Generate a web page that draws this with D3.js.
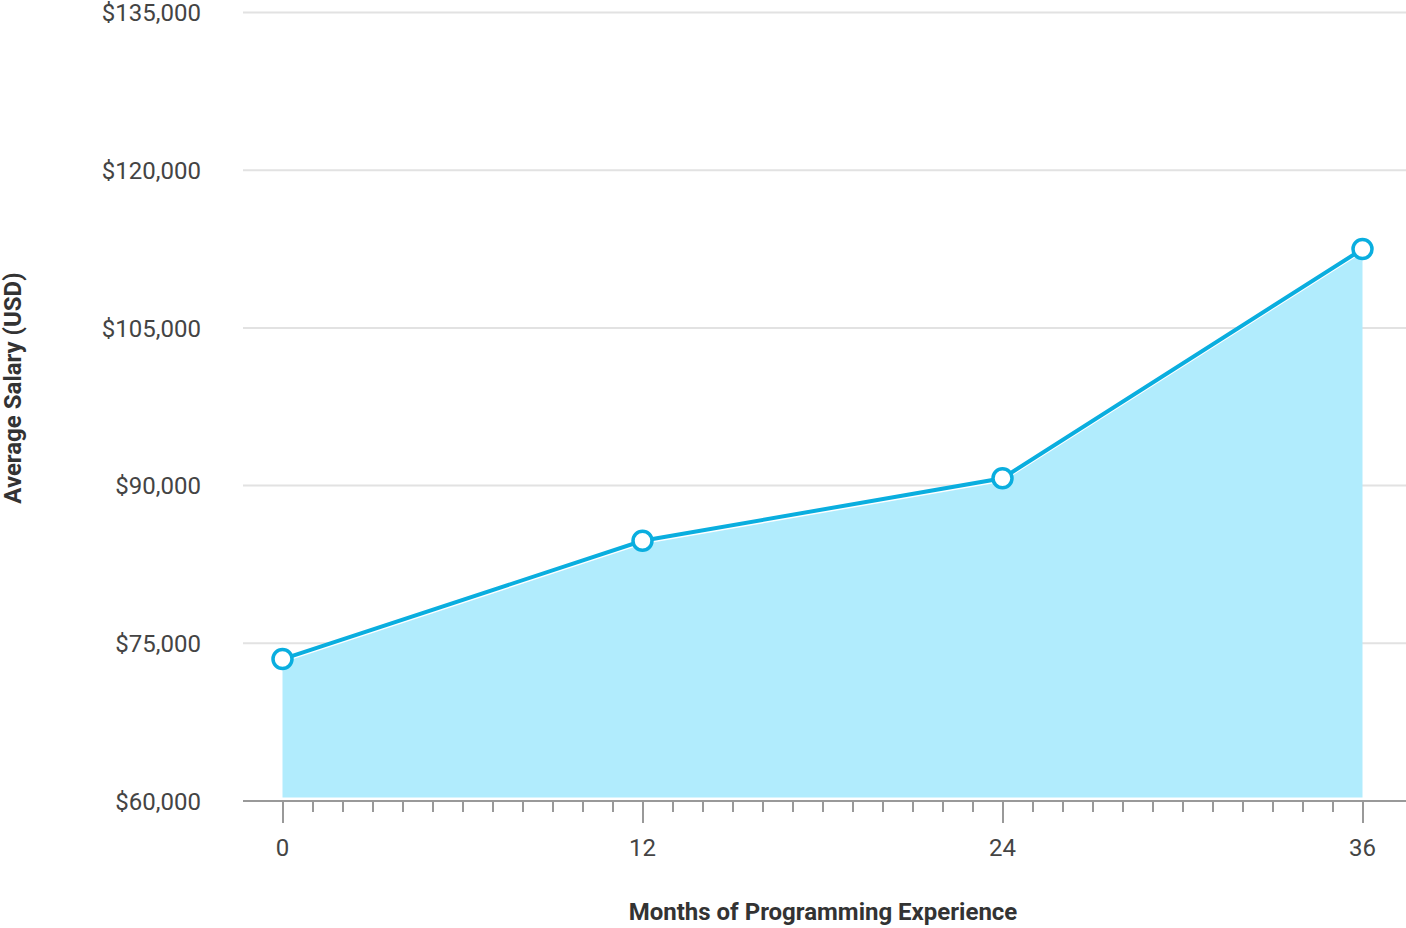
<!DOCTYPE html>
<html>
<head>
<meta charset="utf-8">
<script src="https://cdn.jsdelivr.net/npm/d3@7"></script>
<style>
  html, body { margin: 0; padding: 0; background: #fff; }
  svg { display: block; font-family: Roboto, "Noto Sans", sans-serif; }
</style>
</head>
<body>
<svg id="chart" width="1406" height="928"></svg>
<script>
const months = [0, 12, 24, 36];
const salaries = [73500, 84750, 90700, 112500];
const yTicks = [60000, 75000, 90000, 105000, 120000, 135000];
const xMajorTicks = [0, 12, 24, 36];
const xTitle = "Months of Programming Experience";
const yTitle = "Average Salary (USD)";

const data = months.map((m, i) => ({ m, v: salaries[i] }));

const svg = d3.select("#chart");
const x = d3.scaleLinear().domain([0, 36]).range([282.5, 1362.5]);
const y = d3.scaleLinear().domain([60000, 135000]).range([801, 12.5]);
const gridLeft = 243, gridRight = 1406;

// gridlines
svg.append("g").selectAll("line")
  .data(yTicks.filter(t => t !== 60000))
  .join("line")
  .attr("x1", gridLeft).attr("x2", gridRight)
  .attr("y1", d => y(d)).attr("y2", d => y(d))
  .attr("stroke", "#e2e2e2").attr("stroke-width", 2);

// y tick labels
svg.append("g").selectAll("text")
  .data(yTicks)
  .join("text")
  .attr("x", 201).attr("y", d => y(d))
  .attr("dy", "0.36em")
  .attr("text-anchor", "end")
  .attr("font-size", 24)
  .attr("fill", "#444")
  .text(d => "$" + d3.format(",")(d));

// area
const area = d3.area()
  .x(d => x(d.m))
  .y0(y(60000) - 3.5)
  .y1(d => y(d.v) + 2);
svg.append("path")
  .datum(data)
  .attr("d", area)
  .attr("fill", "#b1ecfd");

// white separator under line
const line = d3.line().x(d => x(d.m)).y(d => y(d.v));
svg.append("path")
  .datum(data)
  .attr("d", line)
  .attr("transform", "translate(0,2.5)")
  .attr("fill", "none")
  .attr("stroke", "#fff")
  .attr("stroke-width", 2);

// x axis
const xAxis = d3.axisBottom(x)
  .tickValues(d3.range(0, 37, 1))
  .tickSize(11)
  .tickFormat("");
const gx = svg.append("g").attr("transform", `translate(0,${y(60000)})`).call(xAxis);
gx.select(".domain").remove();
gx.selectAll(".tick line").attr("stroke", "#999").attr("stroke-width", 2)
  .attr("y2", d => xMajorTicks.includes(d) ? 22 : 11);
svg.append("line")
  .attr("x1", gridLeft).attr("x2", gridRight)
  .attr("y1", y(60000)).attr("y2", y(60000))
  .attr("stroke", "#999").attr("stroke-width", 2);

svg.append("g").selectAll("text")
  .data(xMajorTicks)
  .join("text")
  .attr("x", d => x(d)).attr("y", 856)
  .attr("text-anchor", "middle")
  .attr("font-size", 24)
  .attr("fill", "#444")
  .text(d => d);

// line
svg.append("path")
  .datum(data)
  .attr("d", line)
  .attr("fill", "none")
  .attr("stroke", "#0aaedf")
  .attr("stroke-width", 4);

// points
svg.append("g").selectAll("circle")
  .data(data)
  .join("circle")
  .attr("cx", d => x(d.m)).attr("cy", d => y(d.v))
  .attr("r", 9.5)
  .attr("fill", "#fff")
  .attr("stroke", "#0aaedf")
  .attr("stroke-width", 3.5);

// axis titles
svg.append("text")
  .attr("x", 823).attr("y", 920)
  .attr("text-anchor", "middle")
  .attr("font-size", 24).attr("font-weight", 700)
  .attr("fill", "#333")
  .text(xTitle);

svg.append("text")
  .attr("transform", "translate(21,388) rotate(-90)")
  .attr("text-anchor", "middle")
  .attr("font-size", 24).attr("font-weight", 700)
  .attr("fill", "#333")
  .text(yTitle);
</script>
</body>
</html>
